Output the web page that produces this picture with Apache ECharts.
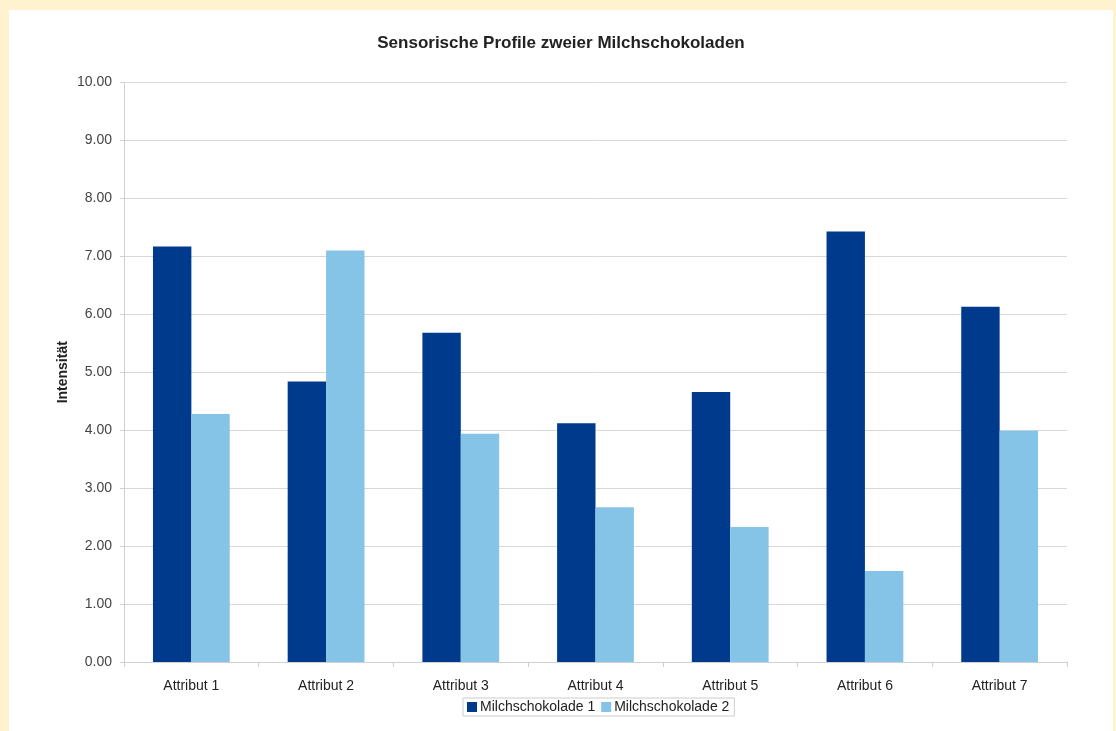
<!DOCTYPE html>
<html>
<head>
<meta charset="utf-8">
<script src="https://cdn.jsdelivr.net/npm/echarts@6/dist/echarts.min.js"></script>
<style>
html,body{margin:0;padding:0;background:#FFF2CF;width:1116px;height:731px;overflow:hidden;}
#chart{position:absolute;left:9px;top:10px;width:1104px;height:721px;background:#fff;}
</style>
</head>
<body>
<div id="chart"></div>
<script>
const categories = ['Attribut 1','Attribut 2','Attribut 3','Attribut 4','Attribut 5','Attribut 6','Attribut 7'];
const seriesNames = ['Milchschokolade 1','Milchschokolade 2'];
const schoko1 = [7.17, 4.84, 5.68, 4.12, 4.66, 7.43, 6.13];
const schoko2 = [4.28, 7.10, 3.94, 2.67, 2.33, 1.57, 3.99];
const yTicks = {min: 0, max: 10, interval: 1};

const chart = echarts.init(document.getElementById('chart'), null, {renderer: 'canvas'});
const font = 'Liberation Sans, Arial, sans-serif';
chart.setOption({
  animation: false,
  backgroundColor: '#ffffff',
  title: {
    text: 'Sensorische Profile zweier Milchschokoladen',
    left: 'center',
    top: 20,
    textStyle: {fontFamily: font, fontSize: 17, fontWeight: 'bold', color: '#222'}
  },
  grid: {left: 115, right: 46, top: 72.5, bottom: 69, containLabel: false},
  legend: {
    data: seriesNames,
    top: 688,
    left: 454,
    itemWidth: 10,
    itemHeight: 10,
    itemGap: 6,
    icon: 'rect',
    padding: [2, 5, 2, 4],
    borderColor: '#ccc',
    borderWidth: 1,
    textStyle: {fontFamily: font, fontSize: 14, color: '#222', padding: [0,0,0,-2]}
  },
  xAxis: {
    type: 'category',
    data: categories,
    axisLine: {lineStyle: {color: '#d0d0d0'}},
    axisTick: {show: true, length: 5, lineStyle: {color: '#d0d0d0'}},
    axisLabel: {fontFamily: font, fontSize: 14, color: '#222', margin: 17}
  },
  yAxis: {
    type: 'value',
    min: yTicks.min, max: yTicks.max, interval: yTicks.interval,
    name: 'Intensität',
    nameLocation: 'middle',
    nameRotate: 90,
    nameGap: 54,
    nameMoveOverlap: false,
    nameTextStyle: {fontFamily: font, fontSize: 14, fontWeight: 'bold', color: '#222'},
    axisLine: {show: true, lineStyle: {color: '#d0d0d0'}},
    axisTick: {show: true, length: 4, lineStyle: {color: '#d0d0d0'}},
    splitLine: {lineStyle: {color: '#d8d8d8'}},
    axisLabel: {fontFamily: font, fontSize: 14, color: '#444', margin: 12,
      formatter: v => v.toFixed(2)}
  },
  series: [
    {name: seriesNames[0], type: 'bar', data: schoko1, barGap: '0%', barCategoryGap: '43%',
     itemStyle: {color: '#003A8C'}},
    {name: seriesNames[1], type: 'bar', data: schoko2, barGap: '0%', barCategoryGap: '43%',
     itemStyle: {color: '#85C4E7'}}
  ]
});
</script>
</body>
</html>
